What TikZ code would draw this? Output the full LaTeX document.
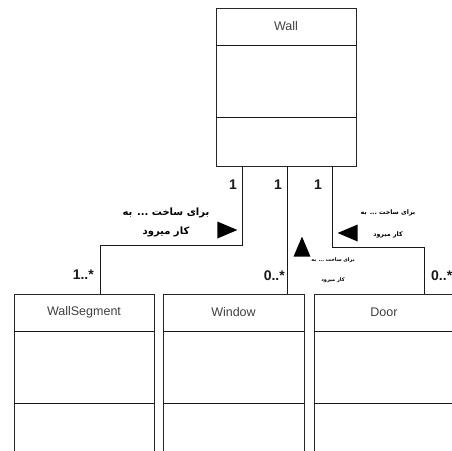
\documentclass[tikz,border=0pt]{standalone}
\usepackage{fontspec}
\setmainfont{Liberation Sans}
\newfontfamily\arabicfont[Script=Arabic]{DejaVu Sans}
\TeXXeTstate=1
\usepackage{tikz}
\usetikzlibrary{shapes.geometric,positioning,calc}

\tikzset{
  classbox/.style={draw=black!85,line width=1pt,inner sep=0pt,outer sep=0pt,
    anchor=north west,minimum width=140pt},
  classname/.style={text=black!75,font=\fontsize{12.5}{14}\selectfont},
  assoc/.style={draw=black!90,line width=1pt},
  mult/.style={font=\fontsize{14}{16}\selectfont\bfseries,text=black!90,inner sep=0pt},
  role/.style={font=\arabicfont\bfseries\fontsize{5}{20}\selectfont,align=center,inner sep=0pt},
  navtri/.style={isosceles triangle,isosceles triangle stretches,fill=black,
    inner sep=0pt,minimum width=17pt,minimum height=20pt}
}

\begin{document}
\begin{tikzpicture}[x=1pt,y=-1pt]
  \useasboundingbox (0,0) rectangle (452,450);

  % Classes
  \node[classbox,minimum height=158pt] (Wall) at (216,8) {};
  \node[classbox,minimum height=160pt] (WallSegment) at (14,294) {};
  \node[classbox,minimum height=160pt,minimum width=141pt] (Window) at (163,294) {};
  \node[classbox,minimum height=160pt] (Door) at (314,294) {};

  % Compartments and names
  \foreach \c/\t in {Wall/Wall,WallSegment/WallSegment,Window/Window,Door/Door}{
    \draw[assoc] ($(\c.north west)+(0,37)$) -- ($(\c.north east)+(0,37)$);
    \draw[assoc] ($(\c.north west)+(0,109)$) -- ($(\c.north east)+(0,109)$);
    \node[classname] (\c-name) at ($(\c.north)+(0,18.5)$) {\t};
  }

  % Associations
  \draw[assoc] ([xshift=26pt]Wall.south west) -- ++(0,79) -| ([xshift=86pt]WallSegment.north west);
  \draw[assoc] ([xshift=71pt]Wall.south west) -- ([xshift=124pt]Window.north west);
  \draw[assoc] ([xshift=116pt]Wall.south west) -- ++(0,81) -| ([xshift=110pt]Door.north west);

  % Multiplicities
  \node[mult,anchor=east] (m-wall-seg) at (237,185) {1};
  \node[mult,anchor=east] (m-wall-win) at (282,185) {1};
  \node[mult,anchor=east] (m-wall-door) at (322,185) {1};
  \node[mult,anchor=east] (m-seg) at (94,275) {1..*};
  \node[mult,anchor=east] (m-win) at (285,276) {0..*};
  \node[mult,anchor=west] (m-door) at (431,276) {0..*};

  % Role names
  \node[role,font=\arabicfont\bfseries\fontsize{10}{19}\selectfont] (r-seg) at (166,222)
    {\beginR برای ساخت ... به\endR\\\beginR کار میرود\endR};
  \node[role,font=\arabicfont\bfseries\fontsize{6.3}{22}\selectfont] (r-door) at (388,224)
    {\beginR برای ساخت ... به\endR\\\beginR کار میرود\endR};
  \node[role] (r-win) at (333,270)
    {\beginR برای ساخت ... به\endR\\\beginR کار میرود\endR};
  \node[navtri] (t-seg) at (223,230) {};
  \node[navtri,shape border rotate=180] (t-door) at (352,233) {};
  \node[navtri,shape border rotate=90] (t-win) at (302,251) {};
\end{tikzpicture}
\end{document}
